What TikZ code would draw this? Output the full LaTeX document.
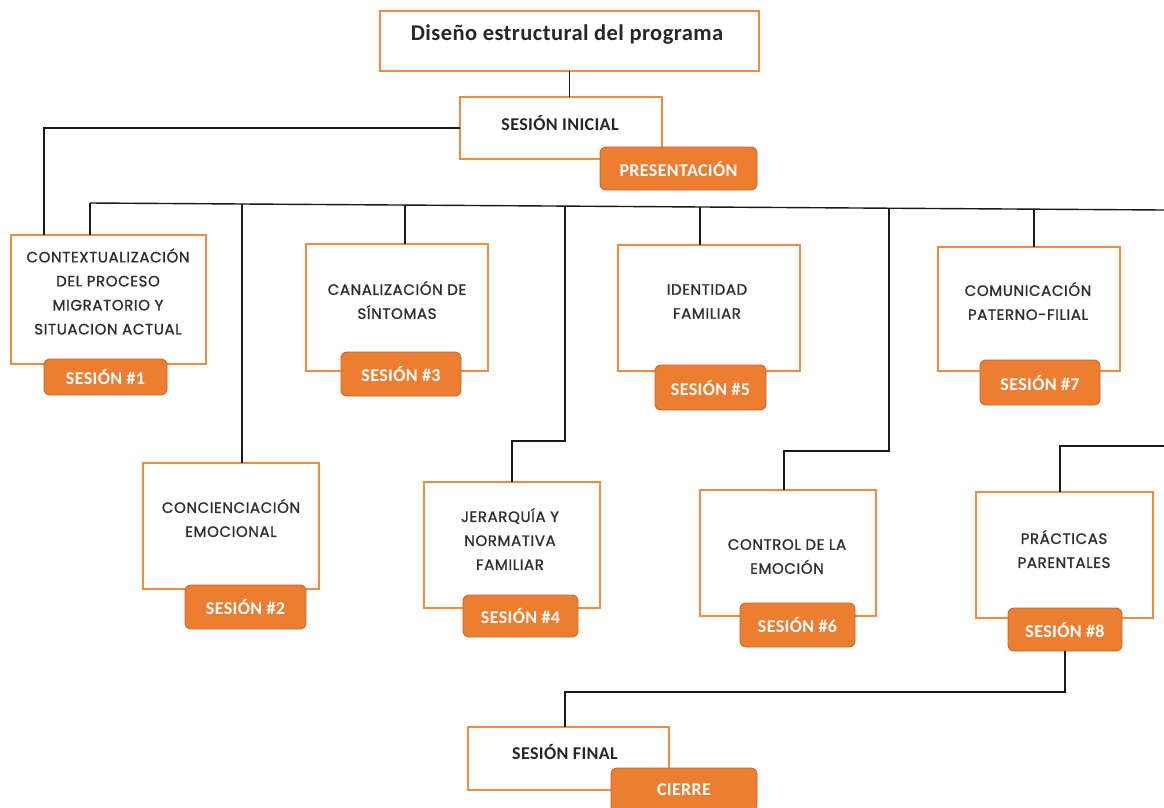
\documentclass[tikz,border=0pt]{standalone}
\usepackage{fontspec}
\setmainfont{Carlito}
\newfontfamily\boxfont[LetterSpace=4,FakeBold=1.2]{Poppins}
\newfontfamily\tagfont[LetterSpace=2]{Carlito}
\usetikzlibrary{calc}
\definecolor{boxorange}{HTML}{F28A3F}
\definecolor{tagfill}{HTML}{ED7D31}
\definecolor{tagline}{HTML}{C5682A}
\definecolor{boxtextcol}{HTML}{2E2E2E}
\tikzset{
  box/.style={draw=boxorange, line width=1.4pt, fill=white, inner sep=0pt, outer sep=0pt},
  boxtext/.style={font=\boxfont\fontsize{15}{24}\selectfont, text=boxtextcol, align=center, inner sep=0pt},
  headtext/.style={font=\tagfont\bfseries\fontsize{18}{20}\selectfont, text=black!85, inner sep=0pt},
  tag/.style={draw=tagline, line width=0.9pt, fill=tagfill, rounded corners=6pt, inner sep=0pt, outer sep=0pt,
    font=\tagfont\bfseries\fontsize{18}{20}\selectfont, text=white},
  conn/.style={draw=black!90, line width=1.4pt}
}
\begin{document}
\begin{tikzpicture}[x=1pt,y=-1pt]
\fill[white] (0,0) rectangle (1164,807);
\useasboundingbox (0,0) rectangle (1164,807);

% ---------- boxes ----------
\node[box, minimum width=379, minimum height=60] (title) at (569.5,41) {};
\node[box, minimum width=202, minimum height=62] (ini) at (561,128) {};
\node[box, minimum width=195, minimum height=129] (b1) at (108.5,299.5) {};
\node[box, minimum width=176, minimum height=126] (b2) at (231,526) {};
\node[box, minimum width=182, minimum height=127] (b3) at (397,307.5) {};
\node[box, minimum width=176, minimum height=126] (b4) at (512,545) {};
\node[box, minimum width=182, minimum height=126] (b5) at (709,308) {};
\node[box, minimum width=176, minimum height=126] (b6) at (788,553) {};
\node[box, minimum width=182, minimum height=124] (b7) at (1029,309) {};
\node[box, minimum width=177, minimum height=126] (b8) at (1064.5,555) {};
\node[box, minimum width=201, minimum height=63] (fin) at (568.5,758.5) {};

% ---------- connectors ----------
\coordinate (busL) at (90,203);
\coordinate (busR) at (1164,210);
\coordinate (j2) at (242,204);
\coordinate (j3) at (405,205);
\coordinate (j4) at (565,206);
\coordinate (j5) at (700,207);
\coordinate (j6) at (889,208);
\coordinate (j7) at (1034,209);
\coordinate (r8) at (1164,446);

\draw[conn] (title.south) -- (title.south |- ini.north);
\draw[conn] (ini.west) -| ([xshift=-64.5]b1.north);
\draw[conn] (busL) -- (busR);
\draw[conn] (busL) -- (busL |- b1.north);
\draw[conn] (j2) -- (j2 |- b2.north);
\draw[conn] (j3) -- (j3 |- b3.north);
\draw[conn] (j4) -- ++(0,235) -| (b4.north);
\draw[conn] (j5) -- (j5 |- b5.north);
\draw[conn] (j6) -- ++(0,243) -| ([xshift=-4]b6.north);
\draw[conn] (j7) -- (j7 |- b7.north);
\draw[conn] (r8) -| ([xshift=-4.5]b8.north);

% ---------- texts ----------
\node[font=\tagfont\bfseries\fontsize{22.5}{26}\selectfont, text=black!85, inner sep=0pt] (titletxt) at (567,35) {Diseño estructural del programa};
\node[headtext] (initxt) at (560,123) {SESIÓN INICIAL};
\node[headtext] (fintxt) at (565,752) {SESIÓN FINAL};
\node[boxtext] (b1t) at (108,291.5) {CONTEXTUALIZACIÓN\\DEL PROCESO\\MIGRATORIO Y\\SITUACION ACTUAL};
\node[boxtext] (b2t) at (231,518) {CONCIENCIACIÓN\\EMOCIONAL};
\node[boxtext] (b3t) at (397,300) {CANALIZACIÓN DE\\SÍNTOMAS};
\node[boxtext] (b4t) at (510,539) {JERARQUÍA Y\\NORMATIVA\\FAMILIAR};
\node[boxtext] (b5t) at (707,301.5) {IDENTIDAD\\FAMILIAR};
\node[boxtext] (b6t) at (787,556.5) {CONTROL DE LA\\EMOCIÓN};
\node[boxtext] (b7t) at (1028,301) {COMUNICACIÓN\\PATERNO-FILIAL};
\node[boxtext] (b8t) at (1064,549) {PRÁCTICAS\\PARENTALES};

% ---------- tags ----------
\node[tag, minimum width=157, minimum height=43] (tpres) at (678.5,168.5) {PRESENTACIÓN};
\node[tag, minimum width=123, minimum height=36] (t1) at (105.5,377) {SESIÓN \#1};
\node[tag, minimum width=121, minimum height=44] (t2) at (245.5,607) {SESIÓN \#2};
\node[tag, minimum width=120, minimum height=44] (t3) at (401,374) {SESIÓN \#3};
\node[tag, minimum width=115, minimum height=42] (t4) at (520.5,616) {SESIÓN \#4};
\node[tag, minimum width=111, minimum height=45] (t5) at (710.5,387.5) {SESIÓN \#5};
\node[tag, minimum width=115, minimum height=44] (t6) at (797.5,625) {SESIÓN \#6};
\node[tag, minimum width=120, minimum height=45] (t7) at (1040,382.5) {SESIÓN \#7};
\node[tag, minimum width=114, minimum height=43] (t8) at (1065,629.5) {SESIÓN \#8};
\node[tag, minimum width=146, minimum height=44] (tcie) at (684,790) {CIERRE};

\draw[conn] (t8.south) -- ++(0,41) -| ([xshift=-3.5]fin.north);
\end{tikzpicture}
\end{document}
